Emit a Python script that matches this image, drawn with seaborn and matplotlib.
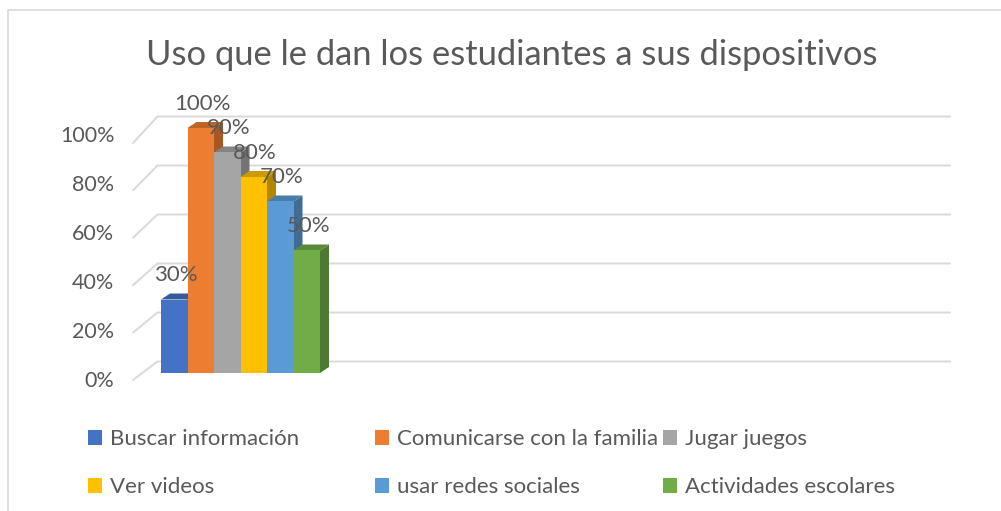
import numpy as np
import pandas as pd
import matplotlib
matplotlib.use("Agg")
import matplotlib.pyplot as plt
import seaborn as sns
from matplotlib.transforms import IdentityTransform, ScaledTranslation
from matplotlib.lines import Line2D
from matplotlib.patches import Polygon, Patch, Rectangle
from matplotlib.colors import to_rgb

# ---- data ----
titulo = "Uso que le dan los estudiantes a sus dispositivos"
actividades = ["Buscar información", "Comunicarse con la familia", "Jugar juegos",
               "Ver videos", "usar redes sociales", "Actividades escolares"]
valores = [30, 100, 90, 80, 70, 50]
colores = ["#4472C4", "#ED7D31", "#A5A5A5", "#FFC000", "#5B9BD5", "#70AD47"]
ticks = [0, 20, 40, 60, 80, 100]

sns.set_theme(style="white")
plt.rcParams["font.family"] = ["Lato", "DejaVu Sans"]
TXT = "#595959"

W, H = 1001, 511
fig = plt.figure(figsize=(W / 100, H / 100), dpi=100)

# axes = front plane of the bars (pixel geometry)
L, R, B, T = 145, 938, 373, 128
ax = fig.add_axes([L / W, (H - B) / H, (R - L) / W, (B - T) / H])
ax.set_facecolor("none")

df = pd.DataFrame({"grupo": [""] * len(actividades), "actividad": actividades, "valor": valores})
sns.barplot(data=df, x="grupo", y="valor", hue="actividad", hue_order=actividades,
            palette=colores, saturation=1, width=0.8, legend=False, ax=ax, linewidth=0)

px_per_unit = (320 - 161) / 0.8
ax.set_xlim(-0.4 - (161 - L) / px_per_unit, -0.4 + (R - 161) / px_per_unit)
ax.set_ylim(0, 100)
ax.set_yticks(ticks)
ax.set_yticklabels([f"{t}%" for t in ticks])
ax.set_xticks([])
ax.set_xlabel("")
ax.set_ylabel("")
for s in ax.spines.values():
    s.set_visible(False)
ax.tick_params(axis="y", length=0, pad=22, labelsize=15.5, labelcolor=TXT)
for lab in ax.get_yticklabels():
    lab.set_transform(lab.get_transform() + ScaledTranslation(0, -6 / 100, fig.dpi_scale_trans))

# walls / gridlines (perspective decoration)
ident = IdentityTransform()
for t in ticks:
    yb = ax.transData.transform((0, t))[1]
    yback = yb + 11.5
    yfront = yb - (7 + 8 * t / 100)
    ax.add_line(Line2D([133, 157.5, 950], [yfront, yback, yback], transform=ident,
                       color="#D9D9D9", lw=1.4, clip_on=False, zorder=0.5))

# 3D faces of the bars
def shade(c, f):
    r, g, b = to_rgb(c)
    return (r * f, g * f, b * f)

DX, DY = 9, 6
for i, (p, c) in enumerate(zip(ax.patches, colores)):
    x0, y0 = ax.transData.transform((p.get_x(), 0))
    x1, y1 = ax.transData.transform((p.get_x() + p.get_width(), p.get_height()))
    z = 2 + i * 3
    side = Polygon([(x1, y0), (x1, y1), (x1 + DX, y1 + DY), (x1 + DX, y0 + DY)],
                   closed=True, transform=ident, facecolor=shade(c, 0.70),
                   edgecolor="none", clip_on=False, zorder=z)
    top = Polygon([(x0, y1), (x1, y1), (x1 + DX, y1 + DY), (x0 + DX, y1 + DY)],
                  closed=True, transform=ident, facecolor=shade(c, 0.80),
                  edgecolor="none", clip_on=False, zorder=z + 1)
    ax.add_patch(side)
    ax.add_patch(top)
    p.set_zorder(z + 2)
    p.set_clip_on(False)
    ax.annotate(f"{valores[i]}%", xy=(p.get_x() + p.get_width() / 2, p.get_height()),
                xytext=(1, 17.5), textcoords="offset points", ha="center", va="center",
                fontsize=16, color=TXT, zorder=50, annotation_clip=False)

# title
fig.text(512 / W, 1 - 55 / H, titulo, ha="center", va="center", fontsize=24.8, color=TXT)

# legend: three columns of two entries
cols = [[0, 3], [1, 4], [2, 5]]
xs = [88, 375, 663]
for xc, idx in zip(xs, cols):
    handles = [Patch(facecolor=colores[k], edgecolor="none") for k in idx]
    labels = [actividades[k] for k in idx]
    fig.legend(handles, labels, loc="upper left", bbox_to_anchor=(xc / W, 1 - 429 / H),
               frameon=False, fontsize=16, labelcolor=TXT, handlelength=0.65,
               handleheight=0.65, handletextpad=0.35, labelspacing=1.27,
               borderpad=0, borderaxespad=0)

# chart border
fig.add_artist(Rectangle((8 / W, -0.1), 1.2, 1 - 10 / H + 0.1, transform=fig.transFigure,
                         fill=False, edgecolor="#D9D9D9", lw=1.2))

fig.savefig("out.png", dpi=100)
